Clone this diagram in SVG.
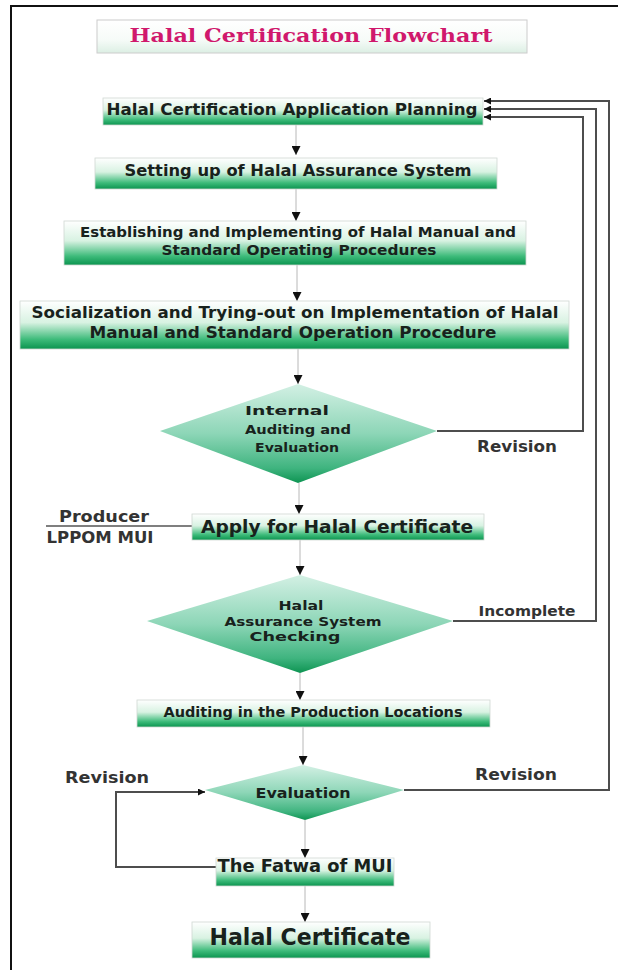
<svg xmlns="http://www.w3.org/2000/svg" width="618" height="970" viewBox="0 0 618 970">
<defs>
<linearGradient id="gBox" x1="0" y1="0" x2="0" y2="1">
<stop offset="0" stop-color="#ffffff"/>
<stop offset="0.45" stop-color="#d8f2e2"/>
<stop offset="0.8" stop-color="#3dbb7a"/>
<stop offset="1" stop-color="#0b944f"/>
</linearGradient>
<linearGradient id="gDia" x1="0" y1="0" x2="0" y2="1">
<stop offset="0" stop-color="#d3f0e4"/>
<stop offset="0.5" stop-color="#8dd6b7"/>
<stop offset="0.85" stop-color="#3fb47f"/>
<stop offset="1" stop-color="#0d9452"/>
</linearGradient>
<linearGradient id="gTitle" x1="0" y1="0" x2="0" y2="1">
<stop offset="0" stop-color="#ffffff"/>
<stop offset="0.6" stop-color="#f6fbf8"/>
<stop offset="1" stop-color="#dcefe4"/>
</linearGradient>
<marker id="ah" viewBox="0 0 10 10" refX="10" refY="5" markerWidth="9" markerHeight="9" markerUnits="userSpaceOnUse" orient="auto">
<path d="M0,0 L10,5 L0,10 Z" fill="#111"/>
</marker>
<marker id="ahs" viewBox="0 0 10 10" refX="10" refY="5" markerWidth="7" markerHeight="7" markerUnits="userSpaceOnUse" orient="auto">
<path d="M0,0 L10,5 L0,10 Z" fill="#111"/>
</marker>
</defs>
<style>
.box{fill:url(#gBox);stroke:#cfd8d2;stroke-width:0.8}
.dia{fill:url(#gDia);stroke:none}
.t{font-family:"DejaVu Sans","Liberation Sans",sans-serif;font-weight:bold;fill:#18221c;text-anchor:middle}
.lbl{font-family:"DejaVu Sans","Liberation Sans",sans-serif;font-weight:bold;fill:#333;text-anchor:middle}
.flow{fill:none;stroke:#b8b8b8;stroke-width:1;marker-end:url(#ah)}
.loopa{fill:none;stroke:#4d4d4d;stroke-width:2;marker-end:url(#ahs)}
</style>
<rect width="618" height="970" fill="#ffffff"/>
<path d="M11,970 V6 H618" fill="none" stroke="#111" stroke-width="2"/>

<g id="title">
<rect x="97" y="20" width="430" height="33" fill="url(#gTitle)" stroke="#cccccc" stroke-width="1"/>
<text x="311" y="42" font-family="DejaVu Serif,'Liberation Serif',serif" font-weight="bold" font-size="18" fill="#d0186c" text-anchor="middle" textLength="363" lengthAdjust="spacingAndGlyphs">Halal Certification Flowchart</text>
</g>

<g id="connectors">
<path class="flow" d="M296,125 V155"/>
<path class="flow" d="M296,189 V221"/>
<path class="flow" d="M297,265 V301"/>
<path class="flow" d="M298,349 V384"/>
<path class="flow" d="M299,483 V514"/>
<path class="flow" d="M300,540 V575"/>
<path class="flow" d="M300,673 V700"/>
<path class="flow" d="M303,727 V765"/>
<path class="flow" d="M305,820 V858"/>
<path class="flow" d="M305,886 V922"/>
<path class="loopa" d="M437,431 H583 V117 H484"/>
<path class="loopa" d="M453,621 H596 V109 H484"/>
<path class="loopa" d="M404,790 H609 V101 H484"/>
<path class="loopa" d="M216,867 H116 V792 H205"/>
<path d="M46,526 H192" fill="none" stroke="#555" stroke-width="1.5"/>
</g>

<g id="n1">
<rect class="box" x="103" y="98" width="380" height="27"/>
<text class="t" x="292" y="115" font-size="15" textLength="371" lengthAdjust="spacingAndGlyphs">Halal Certification Application Planning</text>
</g>
<g id="n2">
<rect class="box" x="95" y="158" width="402" height="31"/>
<text class="t" x="298" y="176" font-size="15" textLength="347" lengthAdjust="spacingAndGlyphs">Setting up of Halal Assurance System</text>
</g>
<g id="n3">
<rect class="box" x="64" y="221" width="462" height="44"/>
<text class="t" x="298" y="237" font-size="14" textLength="436" lengthAdjust="spacingAndGlyphs">Establishing and Implementing of Halal Manual and</text>
<text class="t" x="299" y="255" font-size="14" textLength="275" lengthAdjust="spacingAndGlyphs">Standard Operating Procedures</text>
</g>
<g id="n4">
<rect class="box" x="20" y="301" width="549" height="48"/>
<text class="t" x="295" y="318" font-size="15.5" textLength="527" lengthAdjust="spacingAndGlyphs">Socialization and Trying-out on Implementation of Halal</text>
<text class="t" x="293" y="338" font-size="15.5" textLength="407" lengthAdjust="spacingAndGlyphs">Manual and Standard Operation Procedure</text>
</g>
<g id="d1">
<path class="dia" d="M298,384 L437,431 L298,483 L160,431 Z"/>
<text class="t" x="287" y="415" font-size="13" textLength="84" lengthAdjust="spacingAndGlyphs">Internal</text>
<text class="t" x="298" y="434" font-size="13" textLength="106" lengthAdjust="spacingAndGlyphs">Auditing and</text>
<text class="t" x="297" y="452" font-size="13" textLength="84" lengthAdjust="spacingAndGlyphs">Evaluation</text>
</g>
<text class="lbl" x="517" y="452" font-size="16" textLength="80" lengthAdjust="spacingAndGlyphs">Revision</text>

<g id="producer">
<text class="lbl" x="104" y="522" font-size="15.5" textLength="90" lengthAdjust="spacingAndGlyphs">Producer</text>
<text class="lbl" x="100" y="543" font-size="15.5" textLength="107" lengthAdjust="spacingAndGlyphs">LPPOM MUI</text>
</g>
<g id="n5">
<rect class="box" x="192" y="514" width="292" height="26"/>
<text class="t" x="337" y="533" font-size="17" textLength="272" lengthAdjust="spacingAndGlyphs">Apply for Halal Certificate</text>
</g>
<g id="d2">
<path class="dia" d="M300,575 L453,621 L300,673 L147,621 Z"/>
<text class="t" x="301" y="610" font-size="13" textLength="45" lengthAdjust="spacingAndGlyphs">Halal</text>
<text class="t" x="303" y="626" font-size="13" textLength="157" lengthAdjust="spacingAndGlyphs">Assurance  System</text>
<text class="t" x="295" y="641" font-size="13" textLength="91" lengthAdjust="spacingAndGlyphs">Checking</text>
</g>
<text class="lbl" x="527" y="616" font-size="14" textLength="97" lengthAdjust="spacingAndGlyphs">Incomplete</text>

<g id="n6">
<rect class="box" x="137" y="700" width="353" height="27"/>
<text class="t" x="313" y="717" font-size="13.5" textLength="299" lengthAdjust="spacingAndGlyphs">Auditing in the Production Locations</text>
</g>
<g id="d3">
<path class="dia" d="M303,765 L404,790 L305,820 L205,790 Z"/>
<text class="t" x="303" y="798" font-size="13.5" textLength="95" lengthAdjust="spacingAndGlyphs">Evaluation</text>
</g>
<text class="lbl" x="107" y="783" font-size="16" textLength="84" lengthAdjust="spacingAndGlyphs">Revision</text>
<text class="lbl" x="516" y="780" font-size="16" textLength="82" lengthAdjust="spacingAndGlyphs">Revision</text>
<g id="n7">
<rect class="box" x="216" y="858" width="178" height="28"/>
<text class="t" x="305" y="872" font-size="17" textLength="175" lengthAdjust="spacingAndGlyphs">The Fatwa of MUI</text>
</g>
<g id="n8">
<rect class="box" x="192" y="922" width="238" height="36"/>
<text class="t" x="310" y="945" font-size="23" textLength="201" lengthAdjust="spacingAndGlyphs">Halal Certificate</text>
</g>
</svg>
